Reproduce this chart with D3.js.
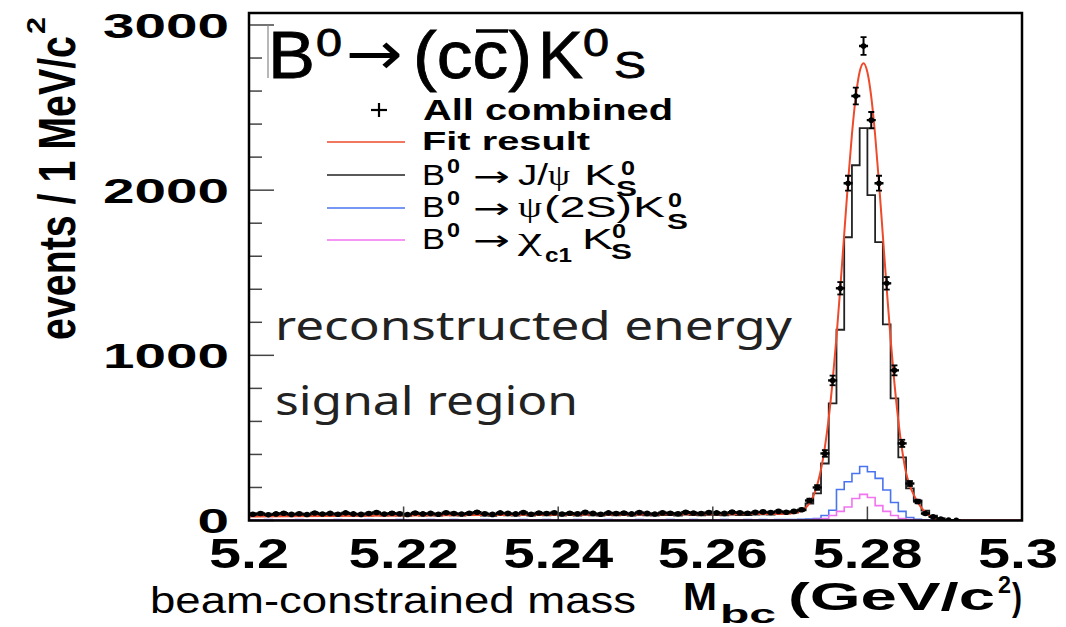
<!DOCTYPE html>
<html>
<head>
<meta charset="utf-8">
<script src="https://cdn.jsdelivr.net/npm/d3@7"></script>
<style>
  html, body { margin: 0; padding: 0; background: #fff; }
  svg { display: block; }
  text { font-family: "Liberation Sans", Arial, Helvetica, sans-serif; fill: #000; }
</style>
</head>
<body>
<div class="chart-container"></div>
<script>
// Mbc histogram, 100 bins of 1 MeV between 5.2 and 5.3 GeV
const x_domain = [5.2, 5.3];
const bin_width = 0.001;

// All combined (data points)
const data_counts = [
  38,42,35,40,44,37,41,36,45,39,
  43,38,46,40,37,42,48,39,44,41,
  36,45,40,43,38,47,42,39,44,50,
  41,37,46,43,40,48,38,45,42,47,
  39,44,41,49,43,38,46,42,45,40,
  48,43,39,47,44,41,50,45,42,48,
  46,43,51,47,44,49,52,48,55,50,
  55,65,121,200,406,848,1406,2042,2570,2873,
  2424,2042,1436,909,467,224,115,42,22,9,
  2,1,0,0,0,0,0,0,0,0
];

// B0 -> J/psi K0s
const jpsi_counts = [
  28,30,27,29,31,28,30,27,32,29,
  31,28,32,29,28,30,33,29,31,30,
  28,32,30,31,29,33,31,29,32,34,
  30,28,33,31,30,34,29,32,31,33,
  29,32,30,34,31,29,33,31,32,30,
  34,31,29,33,32,30,35,32,31,34,
  33,31,35,33,32,35,37,36,40,44,
  48,62,103,164,345,709,1155,1715,2151,2376,
  1970,1685,1188,739,382,194,121,60,30,12,
  3,0,0,0,0,0,0,0,0,0
];

// B0 -> psi(2S) K0s
const psi2s_counts = [
  4,3,5,4,3,4,5,3,4,4,
  3,5,4,4,3,5,4,3,4,5,
  4,3,4,5,4,3,5,4,4,3,
  5,4,3,4,4,5,3,4,5,4,
  4,3,5,4,4,3,5,4,3,4,
  5,4,4,3,5,4,4,5,3,4,
  4,5,4,3,5,4,5,4,5,6,
  6,7,9,12,30,62,188,235,285,327,
  295,255,185,109,55,18,8,4,2,1,
  0,0,0,0,0,0,0,0,0,0
];

// B0 -> chi_c1 K0s
const chic1_counts = [
  2,1,2,2,1,2,2,1,2,2,
  1,2,2,1,2,2,1,2,2,1,
  2,2,1,2,2,1,2,2,2,1,
  2,1,2,2,1,2,2,1,2,2,
  2,1,2,2,1,2,2,2,1,2,
  2,1,2,2,2,1,2,2,1,2,
  2,2,1,2,2,2,1,2,2,2,
  3,3,4,8,12,30,55,82,133,158,
  139,90,55,30,12,5,2,1,0,0,
  0,0,0,0,0,0,0,0,0,0
];

// fit result
const fit_x = [5.200,5.210,5.220,5.230,5.240,5.250,5.260,5.265,5.268,5.270,5.271,5.272,
  5.2725,5.273,5.2735,5.274,5.2745,5.275,5.2755,5.276,5.2765,5.277,5.2775,5.278,5.2785,5.279,
  5.2795,5.280,5.2805,5.281,5.2815,5.282,5.2825,5.283,5.2835,5.284,5.2845,5.285,5.2855,5.286,
  5.2865,5.287,5.2875,5.288,5.2885,5.289,5.2895,5.290,5.300];
const fit_y = [24,27,30,33,35,37,38,39,40,43,50,76,
  104,147,214,310,444,621,844,1111,1412,1733,2051,2338,2568,2717,
  2769,2714,2565,2334,2045,1725,1402,1100,830,605,425,290,210,155,
  112,76,50,30,15,6,2,0,0];

const x_ticks = [5.2, 5.22, 5.24, 5.26, 5.28, 5.3];
const x_tick_labels = ['5.2', '5.22', '5.24', '5.26', '5.28', '5.3'];
const y_ticks = [0, 1000, 2000, 3000];
const y_tick_labels = ['0', '1000', '2000', '3000'];
const y_minor_ticks = [200, 400, 600, 800, 1200, 1400, 1600, 1800, 2200, 2400, 2600, 2800];

const colors = {red: '#ee4a2c', black: '#222', blue: '#4a74ee', pink: '#f074f0'};
const greek_font = '"Liberation Serif", "DejaVu Serif", serif';

// text helper: fixed size, optional stretch to a measured width
function add_text(parent, str, o){
    const t = parent.append('text')
        .attr('x', o.x).attr('y', o.y)
        .style('font-size', o.size + 'px')
        .text(str);
    if (o.weight) t.style('font-weight', o.weight);
    if (o.family) t.style('font-family', o.family);
    if (o.anchor) t.attr('text-anchor', o.anchor);
    if (o.len) t.attr('textLength', o.len).attr('lengthAdjust', 'spacingAndGlyphs');
    if (o.transform) t.attr('transform', o.transform);
    return t;
}

function setup_canvas(){
    const svg_width = 1066;
    const svg_height = 627;
    const frame = {left: 249, right: 1022, top: 13, bottom: 520.5};

    const svg = d3.select('.chart-container')
        .append('svg')
        .attr('width', svg_width)
        .attr('height', svg_height);

    const x_scale = d3.scaleLinear().domain(x_domain).range([frame.left, frame.right]);
    const y_scale = d3.scaleLinear().domain([0, 3000]).range([frame.bottom, 25]);

    svg.append('clipPath').attr('id', 'plot-clip')
        .append('rect')
        .attr('x', frame.left).attr('y', frame.top)
        .attr('width', frame.right - frame.left)
        .attr('height', frame.bottom - frame.top);

    const plot = svg.append('g').attr('clip-path', 'url(#plot-clip)');

    // histograms as steps
    function step_path(counts){
        const pts = counts.map((c, i) => [x_domain[0] + i * bin_width, c]);
        pts.push([x_domain[1], counts[counts.length - 1]]);
        return d3.line()
            .x(d => x_scale(d[0]))
            .y(d => y_scale(d[1]))
            .curve(d3.curveStepAfter)(pts);
    }

    plot.append('path').attr('d', step_path(jpsi_counts))
        .style('fill', 'none').style('stroke', colors.black).style('stroke-width', 1.8);
    plot.append('path').attr('d', step_path(psi2s_counts))
        .style('fill', 'none').style('stroke', colors.blue).style('stroke-width', 1.6);
    plot.append('path').attr('d', step_path(chic1_counts))
        .style('fill', 'none').style('stroke', colors.pink).style('stroke-width', 1.6);

    // fit curve
    const fit_line = d3.line()
        .x((d, i) => x_scale(fit_x[i]))
        .y(d => y_scale(d))
        .curve(d3.curveMonotoneX);
    plot.append('path').attr('d', fit_line(fit_y))
        .style('fill', 'none').style('stroke', colors.red).style('stroke-width', 2);

    // data points with error bars
    const points = data_counts
        .map((c, i) => ({x: x_domain[0] + (i + 0.5) * bin_width, n: c}))
        .filter(d => d.n > 0);
    const pt = plot.selectAll('.pt').data(points).enter()
        .append('g').attr('class', 'pt')
        .attr('transform', d => `translate(${x_scale(d.x)},${y_scale(d.n)})`);
    pt.append('line')
        .attr('x1', 0).attr('x2', 0)
        .attr('y1', d => y_scale(d.n + Math.sqrt(d.n)) - y_scale(d.n))
        .attr('y2', d => y_scale(d.n - Math.sqrt(d.n)) - y_scale(d.n))
        .style('stroke', '#000').style('stroke-width', 2);
    [-1, 1].forEach(s => {
        pt.append('line')
            .attr('x1', -3).attr('x2', 3)
            .attr('y1', d => s * (y_scale(d.n - Math.sqrt(d.n)) - y_scale(d.n)))
            .attr('y2', d => s * (y_scale(d.n - Math.sqrt(d.n)) - y_scale(d.n)))
            .style('stroke', '#000').style('stroke-width', 1.8);
    });
    pt.append('line')
        .attr('x1', -4.5).attr('x2', 4.5).attr('y1', 0).attr('y2', 0)
        .style('stroke', '#000').style('stroke-width', 2.4);
    pt.append('circle').attr('r', 2.8).style('fill', '#000');

    // axes ticks
    const axes = svg.append('g');
    axes.selectAll('.ymaj').data(y_ticks).enter().append('line')
        .attr('x1', frame.left).attr('x2', frame.left + 25)
        .attr('y1', d => y_scale(d)).attr('y2', d => y_scale(d))
        .style('stroke', '#444').style('stroke-width', 1.5);
    axes.selectAll('.ymin').data(y_minor_ticks).enter().append('line')
        .attr('x1', frame.left).attr('x2', frame.left + 13)
        .attr('y1', d => y_scale(d)).attr('y2', d => y_scale(d))
        .style('stroke', '#444').style('stroke-width', 1.5);
    axes.selectAll('.xmaj').data(x_ticks).enter().append('line')
        .attr('x1', d => x_scale(d)).attr('x2', d => x_scale(d))
        .attr('y1', frame.bottom).attr('y2', frame.bottom - 14)
        .style('stroke', '#444').style('stroke-width', 1.5);

    // frame
    svg.append('rect')
        .attr('x', frame.left).attr('y', frame.top)
        .attr('width', frame.right - frame.left)
        .attr('height', frame.bottom - frame.top)
        .style('fill', 'none').style('stroke', '#000').style('stroke-width', 2.5);

    // tick labels
    y_ticks.forEach((t, i) => {
        const lbl = y_tick_labels[i];
        add_text(svg, lbl, {x: 229, y: y_scale(t) + 12.5, size: 35, weight: 'bold',
            anchor: 'end', len: 31.5 * lbl.length});
    });
    x_ticks.forEach((t, i) => {
        const lbl = x_tick_labels[i];
        const w = lbl.length === 3 ? 80 : 110;
        const cx = Math.min(x_scale(t), 1058 - w / 2);
        add_text(svg, lbl, {x: cx, y: 568, size: 42, weight: 'bold', anchor: 'middle', len: w});
    });

    // axis titles
    add_text(svg, 'events / 1 MeV/c', {x: 0, y: 0, size: 52, weight: 'bold', len: 304,
        transform: 'translate(75,340) rotate(-90)'});
    add_text(svg, '2', {x: 0, y: 0, size: 26, weight: 'bold', len: 17,
        transform: 'translate(45,34) rotate(-90)'});

    add_text(svg, 'beam-constrained mass', {x: 150, y: 613, size: 37, len: 486});
    add_text(svg, 'M', {x: 683, y: 610, size: 38, weight: 'bold', len: 34});
    add_text(svg, 'bc', {x: 720, y: 623, size: 25, weight: 'bold', len: 56});
    add_text(svg, '(GeV/c', {x: 788, y: 610, size: 38, weight: 'bold', len: 207});
    add_text(svg, '2', {x: 998, y: 593, size: 23, weight: 'bold', len: 13});
    add_text(svg, ')', {x: 1012, y: 610, size: 38, weight: 'bold', len: 10});

    // title
    const title = svg.append('g').style('stroke', '#000').style('stroke-width', 0.8);
    svg.append('line').attr('x1', 268).attr('x2', 268).attr('y1', 25).attr('y2', 78)
        .style('stroke', '#888').style('stroke-width', 1.2);
    add_text(title, 'B', {x: 268, y: 78, size: 66, len: 47});
    add_text(title, '0', {x: 316, y: 56, size: 38, len: 26});
    add_text(title, '\u2192', {x: 346, y: 74, size: 60, family: 'DejaVu Sans', len: 57})
        .style('stroke-width', 0);
    add_text(title, '(cc)', {x: 413, y: 78, size: 66, len: 119});
    svg.append('line').attr('x1', 476).attr('x2', 508).attr('y1', 31).attr('y2', 31)
        .style('stroke', '#000').style('stroke-width', 3.5);
    add_text(title, 'K', {x: 538, y: 78, size: 66, len: 45});
    add_text(title, '0', {x: 583, y: 56, size: 38, len: 26});
    add_text(title, 'S', {x: 614, y: 78, size: 36, len: 32});

    // legend
    const leg = svg.append('g');
    leg.append('line').attr('x1', 371).attr('x2', 387).attr('y1', 110).attr('y2', 110)
        .style('stroke', '#000').style('stroke-width', 2.2);
    leg.append('line').attr('x1', 379).attr('x2', 379).attr('y1', 103).attr('y2', 117)
        .style('stroke', '#000').style('stroke-width', 2.2);
    add_text(leg, 'All combined', {x: 423, y: 120, size: 30, weight: 'bold', len: 250});

    const leg_rows = [
        {y: 142, color: colors.red},
        {y: 175, color: colors.black},
        {y: 208, color: colors.blue},
        {y: 240, color: colors.pink}
    ];
    leg.selectAll('.legline').data(leg_rows).enter().append('line')
        .attr('x1', 327).attr('x2', 405)
        .attr('y1', d => d.y).attr('y2', d => d.y)
        .style('stroke', d => d.color).style('stroke-width', 1.5);

    add_text(leg, 'Fit result', {x: 422, y: 150, size: 25, weight: 'bold', len: 168});

    function decay_head(base){
        add_text(leg, 'B', {x: 422, y: base, size: 30, len: 23});
        add_text(leg, '0', {x: 447, y: base - 12, size: 20, weight: 'bold', len: 13});
        add_text(leg, '\u2192', {x: 473, y: base + 1, size: 28, family: 'DejaVu Sans', len: 37});
    }
    decay_head(185);
    add_text(leg, 'J/', {x: 518, y: 185, size: 30, len: 30});
    add_text(leg, '\u03C8', {x: 548, y: 185, size: 30, family: greek_font, len: 22});
    add_text(leg, 'K', {x: 584, y: 185, size: 30, len: 32});
    add_text(leg, '0', {x: 621, y: 175, size: 20, weight: 'bold', len: 14});
    add_text(leg, 'S', {x: 616, y: 196, size: 22, weight: 'bold', len: 21});

    decay_head(217);
    add_text(leg, '\u03C8', {x: 518, y: 217, size: 30, family: greek_font, len: 24});
    add_text(leg, '(2S)', {x: 544, y: 217, size: 30, len: 88});
    add_text(leg, 'K', {x: 633, y: 217, size: 30, len: 32});
    add_text(leg, '0', {x: 668, y: 207, size: 20, weight: 'bold', len: 14});
    add_text(leg, 'S', {x: 667, y: 229, size: 22, weight: 'bold', len: 21});

    decay_head(249);
    add_text(leg, '\u03C7', {x: 518, y: 249, size: 32, family: greek_font, len: 24});
    add_text(leg, 'c1', {x: 545, y: 262, size: 20, weight: 'bold', len: 27});
    add_text(leg, 'K', {x: 582, y: 249, size: 30, len: 31});
    add_text(leg, '0', {x: 612, y: 238, size: 20, weight: 'bold', len: 14});
    add_text(leg, 'S', {x: 611, y: 259, size: 22, weight: 'bold', len: 21});

    // annotation
    add_text(svg, 'reconstructed energy', {x: 275, y: 340, size: 40, family: 'Noto Sans', len: 517})
        .style('fill', '#222');
    add_text(svg, 'signal region', {x: 275, y: 415, size: 40, family: 'Noto Sans', len: 303})
        .style('fill', '#222');
}

setup_canvas();
</script>
</body>
</html>
